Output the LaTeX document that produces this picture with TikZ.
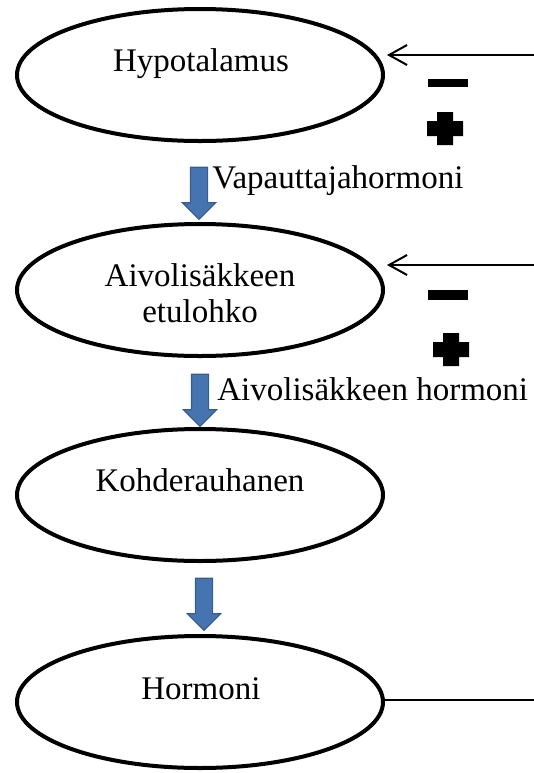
\documentclass[tikz,border=0pt]{standalone}
\usepackage{fontspec}
\setmainfont{Liberation Serif}
\usetikzlibrary{shapes.geometric,shapes.arrows,arrows.meta}
\definecolor{arrowfill}{RGB}{70,116,176}
\definecolor{arrowlight}{RGB}{98,153,218}
\definecolor{arrowedge}{RGB}{56,93,138}
\newcommand{\plusmark}[1]{\fill[shift={#1}] (-8,-16.5) rectangle (8,16.5) (-18,-7.5) rectangle (18,7.5);}
\begin{document}
\begin{tikzpicture}[x=0.5pt,y=-0.5pt,
  gland/.style={draw, ellipse, line width=2pt, minimum width=183pt, minimum height=66pt, inner sep=0pt},
  lbl/.style={font=\fontsize{16.5}{19}\selectfont, inner sep=0pt},
  blockarrow/.style={single arrow, draw=arrowedge, line width=0.6pt, top color=arrowfill, middle color=arrowlight, bottom color=arrowfill, minimum height=26pt, inner sep=4pt, single arrow head extend=4pt, rotate=-90},
  feedback/.style={line width=1pt, -{Straight Barb[length=9pt,width=10pt]}}]
\useasboundingbox (0,0) rectangle (534,773);

\node[gland] (hyp) at (200,75) {};
\node[gland] (aiv) at (200,290) {};
\node[gland] (koh) at (200,495) {};
\node[gland] (hor) at (200,702) {};

\node[lbl, anchor=base] (hyptext) at (201,71) {Hypotalamus};
\node[lbl, anchor=base] (aivtext) at (200,286) {Aivolisäkkeen};
\node[lbl, anchor=base] (etutext) at (200,322) {etulohko};
\node[lbl, anchor=base] (kohtext) at (200,491) {Kohderauhanen};
\node[lbl, anchor=base] (hortext) at (201,699) {Hormoni};

\node[blockarrow] (arr1) at (199,189) {};
\node[blockarrow] (arr2) at (200,396) {};
\node[blockarrow] (arr3) at (204,600) {};
\node[lbl, anchor=base west] (vapa) at (212,188) {Vapauttajahormoni};
\node[lbl, anchor=base west] (aivhorm) at (217,400) {Aivolisäkkeen hormoni};

\coordinate (fb1) at (534,55);
\coordinate (tip1) at (387,55);
\coordinate (fb2) at (534,265);
\coordinate (tip2) at (387,265);
\coordinate (horout) at (534,700);
\draw[feedback] (fb1) -- (tip1);
\draw[feedback] (fb2) -- (tip2);
\draw[line width=1pt] (hor.east |- horout) -- (horout);

\fill (428,79) rectangle (468,87);
\plusmark{(445,128.5)}
\fill (428,290) rectangle (468,300);
\plusmark{(451,349.5)}
\end{tikzpicture}
\end{document}
